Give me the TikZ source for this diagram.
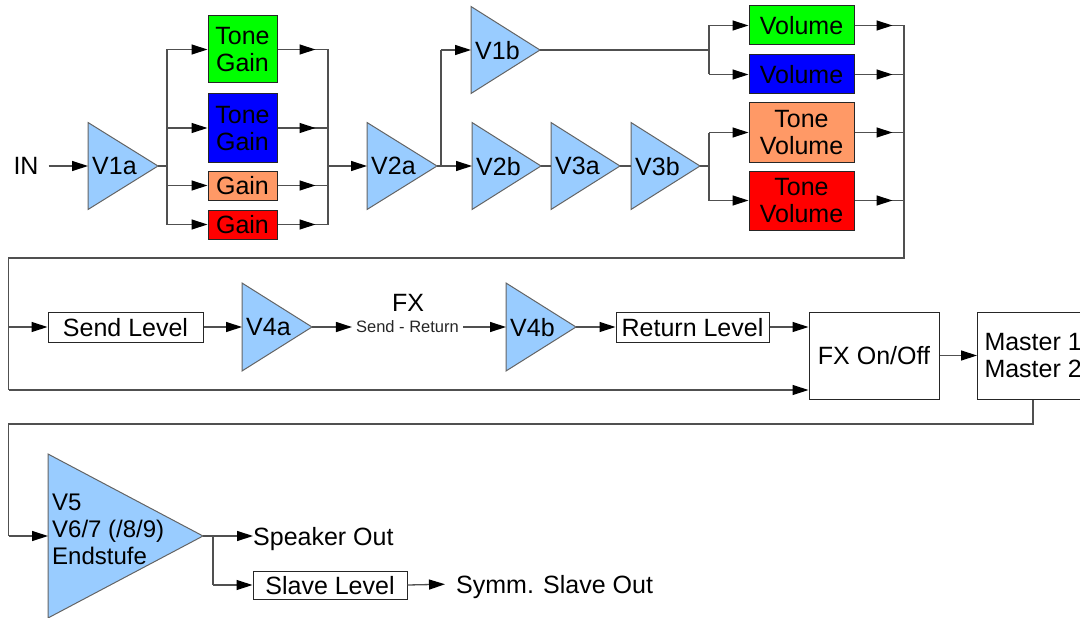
\documentclass[tikz,border=0pt]{standalone}
\usepackage{fontspec}
\setmainfont{Liberation Sans}
\usetikzlibrary{arrows.meta}
\definecolor{ampfill}{RGB}{153,204,255}
\definecolor{ampline}{RGB}{100,100,100}
\definecolor{wirec}{RGB}{80,80,80}
\definecolor{cgreen}{RGB}{0,255,0}
\definecolor{cblue}{RGB}{0,0,255}
\definecolor{corange}{RGB}{255,153,102}
\definecolor{cred}{RGB}{255,0,0}
\newcommand\fsbig{\fontsize{25}{27}\selectfont}
\newcommand\fsmid{\fontsize{24}{27}\selectfont}
\newcommand\fssmall{\fontsize{16.5}{18}\selectfont}
% name, left x, centre y, half height, width, label
\newcommand\mkamp[6]{%
  \coordinate (#1-in) at (#2,#3);
  \coordinate (#1-out) at ({#2+#5},#3);
  \filldraw[amp] (#2,{#3-#4}) -- (#1-out) -- (#2,{#3+#4}) -- cycle;
  \node[amplabel] (#1) at ({#2+4},#3) {#6};
}
\begin{document}
\begin{tikzpicture}[x=1pt,y=-1pt,
  every node/.style={text depth=0pt},
  wire/.style={draw=wirec, line width=1.3pt},
  arr/.style={wire, -{Triangle[length=16pt,width=10pt,color=black]}},
  amp/.style={fill=ampfill, draw=ampline, line width=1pt},
  amplabel/.style={anchor=west, inner sep=0pt, font=\fsbig, align=left, text depth=0pt},
  box/.style={draw=black!85, line width=1pt, inner sep=0pt, align=center, font=\fsbig, text depth=0pt},
  plain/.style={inner sep=0pt, font=\fsbig, text depth=0pt}]
\useasboundingbox (0,0) rectangle (1080,618);
\clip (0,0) rectangle (1080,618);

% ---------- row 1 ----------
\node[plain] (in) at (26,166) {IN};
\mkamp{v1a}{88}{166}{43.5}{70}{V1a}
\draw[arr] (in.east) ++(10,0) -- (v1a-in);

\node[box, fill=cgreen,  minimum width=69, minimum height=67] (tg1) at (242.5,49.5) {Tone\\Gain};
\node[box, fill=cblue,   minimum width=69, minimum height=68] (tg2) at (242.5,128) {Tone\\Gain};
\node[box, fill=corange, minimum width=69, minimum height=29] (g3)  at (242.5,185.5) {Gain};
\node[box, fill=cred,    minimum width=69, minimum height=29] (g4)  at (242.5,224.5) {Gain};

\coordinate (sA) at (167,166);
\coordinate (mB) at (328,166);
\draw[wire] (v1a-out) -- (sA);
\draw[wire] (sA |- tg1.west) -- (sA |- g4.west);
\draw[wire] (mB |- tg1.east) -- (mB |- g4.east);
\foreach \n in {tg1,tg2,g3,g4}{
  \draw[arr] (sA |- \n.west) -- (\n.west);
  \draw[wire] (\n.east) -- (mB |- \n.east);
  \draw[arr] (\n.east) -- ++(38,0);
}
\mkamp{v2a}{367}{166}{43.5}{70}{V2a}
\draw[arr] (mB) -- (v2a-in);

\mkamp{v1b}{471}{50}{43.5}{69}{V1b}
\mkamp{v2b}{472}{166}{43.5}{69}{V2b}
\mkamp{v3a}{551}{166}{43.5}{69}{V3a}
\mkamp{v3b}{631}{166}{43.5}{69}{V3b}
\coordinate (sC) at (441,166);
\draw[wire] (v2a-out) -- (sC) -- (sC |- v1b-in);
\draw[arr] (sC |- v1b-in) -- (v1b-in);
\draw[arr] (sC) -- (v2b-in);
\draw[wire] (v2b-out) -- (v3a-in);
\draw[wire] (v3a-out) -- (v3b-in);

\node[box, fill=cgreen,  minimum width=105, minimum height=39] (vo1) at (801.5,25.5) {Volume};
\node[box, fill=cblue,   minimum width=105, minimum height=39] (vo2) at (801.5,74.5) {Volume};
\node[box, fill=corange, minimum width=105, minimum height=59] (tv3) at (801.5,132.5) {Tone\\Volume};
\node[box, fill=cred,    minimum width=105, minimum height=59] (tv4) at (801.5,200.5) {Tone\\Volume};

\coordinate (sD) at (709,50);
\coordinate (sE) at (709,166);
\draw[wire] (v1b-out) -- (sD);
\draw[wire] (sD |- vo1.west) -- (sD |- vo2.west);
\draw[wire] (v3b-out) -- (sE);
\draw[wire] (sE |- tv3.west) -- (sE |- tv4.west);
\foreach \n in {vo1,vo2}{\draw[arr] (sD |- \n.west) -- (\n.west);}
\foreach \n in {tv3,tv4}{\draw[arr] (sE |- \n.west) -- (\n.west);}

\coordinate (mF) at (904,258);
\coordinate (cL1) at (8.7,258);
\coordinate (cL2) at (8.7,390);
\foreach \n in {vo1,vo2,tv3,tv4}{
  \draw[wire] (\n.east) -- (mF |- \n.east);
  \draw[arr] (\n.east) -- ++(38,0);
}
\draw[wire] (mF |- vo1.east) -- (mF) -- (cL1) -- (cL2);

% ---------- row 2 ----------
\node[box, minimum width=155, minimum height=30] (send) at (125.5,327) {Send Level};
\mkamp{v4a}{242}{327}{44}{70}{V4a}
\node[plain] (fx) at (408,303) {FX};
\node[inner sep=0pt, inner xsep=4pt, font=\fssmall, text=black!85] (sr) at (407.5,327) {Send - Return};
\mkamp{v4b}{506}{327}{44}{70}{V4b}
\node[box, minimum width=153, minimum height=30] (ret) at (692.5,327) {Return Level};
\node[box, minimum width=130, minimum height=87] (fxo) at (874,355.5) {FX On/Off};
\node[box, anchor=west, inner xsep=7pt, minimum height=87, align=left] (master) at (977,355.5) {Master 1\\Master 2};

\draw[arr] (cL1 |- send.west) -- (send.west);
\draw[arr] (send.east) -- (v4a-in);
\draw[arr] (v4a-out) -- (sr.west);
\draw[arr] (sr.east) -- (v4b-in);
\draw[arr] (v4b-out) -- (ret.west);
\draw[arr] (ret.east) -- (fxo.west |- ret.east);
\draw[arr] (cL2) -- (fxo.west |- cL2);
\draw[arr] (fxo.east) -- (master.west |- fxo.east);

% ---------- row 3 ----------
\coordinate (cM) at (8.7,424);
\mkamp{v5}{48}{536}{82}{155}{}
\node[amplabel, font=\fsmid] (v5l) at (52,529) {V5\\V6/7 (/8/9)\\Endstufe};
\draw[wire] (master.south) -- (master.south |- cM) -- (cM) -- (cM |- v5-in);
\draw[arr] (cM |- v5-in) -- (v5-in);

\node[plain, anchor=west] (spk) at (253,536) {Speaker Out};
\node[box, minimum width=154, minimum height=28] (slave) at (330,585) {Slave Level};
\node[plain, anchor=west] (symm) at (456,584) {Symm. Slave Out};
\coordinate (sG) at (213,536);
\draw[wire] (v5-out) -- (sG) -- (sG |- slave.west);
\draw[arr] (sG) -- (spk.west);
\draw[arr] (sG |- slave.west) -- (slave.west);
\draw[arr, shorten >=11pt] (slave.east) -- (symm.west);
\end{tikzpicture}
\end{document}
